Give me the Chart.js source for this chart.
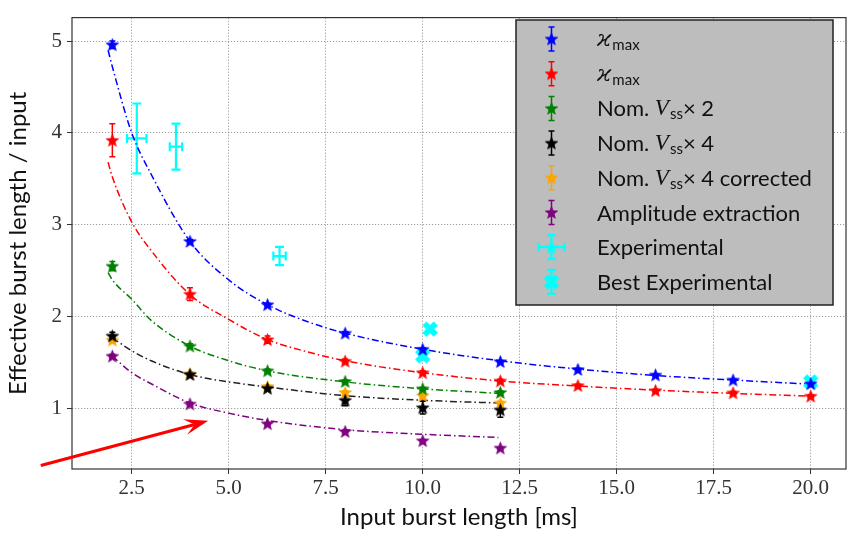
<!DOCTYPE html>
<html>
<head>
<meta charset="utf-8">
<script src="https://cdn.jsdelivr.net/npm/chart.js@4.4.1/dist/chart.umd.min.js"></script>
<style>
html, body { margin: 0; padding: 0; background: #fff; }
#wrap { width: 855px; height: 534px; }
</style>
</head>
<body>
<div id="wrap"><canvas id="burstChart" width="855" height="534"></canvas></div>
<script>
// simulated burst lengths (ms)
const burstX = [2, 4, 6, 8, 10, 12, 14, 16, 18, 20];
const burstXShort = [2, 4, 6, 8, 10, 12];

// effective burst length / input, with error bars
const kappaBlue = [4.96, 2.82, 2.13, 1.82, 1.645, 1.51, 1.425, 1.365, 1.31, 1.27];
const kappaBlueErr = [0.04, 0.02, 0.015, 0.015, 0.015, 0.012, 0.01, 0.01, 0.01, 0.01];
const kappaRed = [3.92, 2.245, 1.75, 1.515, 1.39, 1.30, 1.25, 1.195, 1.17, 1.135];
const kappaRedErr = [0.18, 0.07, 0.04, 0.025, 0.02, 0.02, 0.015, 0.015, 0.015, 0.015];
const nomX2 = [2.55, 1.68, 1.41, 1.295, 1.215, 1.175];
const nomX2Err = [0.05, 0.025, 0.02, 0.015, 0.015, 0.015];
const nomX4 = [1.79, 1.37, 1.22, 1.09, 1.01, 0.985];
const nomX4Err = [0.04, 0.025, 0.025, 0.06, 0.07, 0.08];
const nomX4Corr = [1.745, 1.38, 1.24, 1.175, 1.14, 1.06];
const nomX4CorrErr = [0.03, 0.02, 0.02, 0.02, 0.02, 0.02];
const amplitude = [1.57, 1.05, 0.835, 0.75, 0.65, 0.57];
const amplitudeErr = [0.02, 0.015, 0.01, 0.01, 0.01, 0.01];

// measured points
const expX = [2.63, 3.64, 6.31];
const expY = [3.94, 3.85, 2.66];
const expXErr = [0.25, 0.16, 0.16];
const expYErr = [0.38, 0.25, 0.10];
const bestX = [10.19, 10.0, 20.0];
const bestY = [1.865, 1.575, 1.29];
const bestYErr = [0.0, 0.04, 0.0];

// fitted curves
const fitXLong = [1.89, 2, 2.5, 3, 4, 5, 6, 7, 8, 10, 12, 14, 16, 18, 20];
const fitBlue = [4.90, 4.72, 4.00, 3.55, 2.82, 2.40, 2.13, 1.95, 1.82, 1.645, 1.52, 1.43, 1.36, 1.31, 1.265];
const fitRed = [3.68, 3.52, 3.03, 2.72, 2.24, 1.97, 1.75, 1.62, 1.52, 1.39, 1.30, 1.245, 1.20, 1.165, 1.135];
const fitXShort = [1.89, 2, 2.5, 3, 4, 5, 6, 8, 10, 11.95];
const fitGreen = [2.48, 2.40, 2.19, 1.96, 1.68, 1.52, 1.41, 1.29, 1.215, 1.165];
const fitXShort2 = [2, 2.5, 3, 4, 5, 6, 8, 10, 11.95];
const fitBlack = [1.77, 1.63, 1.52, 1.37, 1.29, 1.235, 1.14, 1.09, 1.06];
const fitPurple = [1.57, 1.39, 1.27, 1.06, 0.95, 0.87, 0.77, 0.72, 0.685];

// axis ticks
const xTicks = [2.5, 5.0, 7.5, 10.0, 12.5, 15.0, 17.5, 20.0];
const yTicks = [1, 2, 3, 4, 5];

// annotation arrow, in data units
const arrowFrom = [0.155, 0.38];
const arrowTo = [4.47, 0.866];

const COLORS = {
    blue: '#0000ff', red: '#ff0000', green: '#008000', black: '#000000',
    orange: '#ffa500', purple: '#800080', cyan: '#00ffff'
};

function starImage(color, r) {
    const c = document.createElement('canvas');
    const s = Math.ceil(r * 2 + 4);
    c.width = c.height = s;
    const g = c.getContext('2d');
    g.translate(s / 2, s / 2 + 0.5);
    g.beginPath();
    for (let i = 0; i < 10; i++) {
        const rr = i % 2 ? r * 0.42 : r;
        const a = -Math.PI / 2 + i * Math.PI / 5;
        g.lineTo(rr * Math.cos(a), rr * Math.sin(a));
    }
    g.closePath();
    g.fillStyle = color;
    g.fill();
    g.lineWidth = 0.8;
    g.strokeStyle = color;
    g.stroke();
    return c;
}

function xImage(color, r) {
    const c = document.createElement('canvas');
    const s = Math.ceil(r * 2 + 4);
    c.width = c.height = s;
    const g = c.getContext('2d');
    g.translate(s / 2, s / 2);
    g.rotate(Math.PI / 4);
    const w = r * 0.36;
    g.beginPath();
    g.moveTo(-w, -r); g.lineTo(w, -r); g.lineTo(w, -w); g.lineTo(r, -w);
    g.lineTo(r, w); g.lineTo(w, w); g.lineTo(w, r); g.lineTo(-w, r);
    g.lineTo(-w, w); g.lineTo(-r, w); g.lineTo(-r, -w); g.lineTo(-w, -w);
    g.closePath();
    g.fillStyle = color;
    g.fill();
    return c;
}

const stars = {};
Object.keys(COLORS).forEach(k => { stars[k] = starImage(COLORS[k], 6.5); });
const bestMarker = xImage(COLORS.cyan, 8);

function pts(xs, ys) {
    return xs.map((x, i) => ({ x: x, y: ys[i] }));
}

function fitSet(xs, ys, color) {
    return {
        data: pts(xs, ys), showLine: true, borderColor: color, borderWidth: 1.5,
        borderDash: [7, 3, 1.5, 3], pointRadius: 0, cubicInterpolationMode: 'monotone', order: 2
    };
}

function markerSet(xs, ys, color, img, yErr, xErr, errWidth) {
    return {
        data: pts(xs, ys), showLine: false, pointStyle: img, pointRadius: 6,
        borderColor: color, backgroundColor: color, order: 1,
        errColor: color, yErr: yErr, xErr: xErr, errWidth: errWidth || 1.5
    };
}

// error bars, drawn under the markers
const errorBars = {
    id: 'errorBars',
    beforeDatasetsDraw(chart) {
        const ctx = chart.ctx, xs = chart.scales.x, ys = chart.scales.y;
        ctx.save();
        chart.data.datasets.forEach(ds => {
            if (!ds.yErr && !ds.xErr) return;
            ctx.strokeStyle = ds.errColor;
            ctx.lineWidth = ds.errWidth;
            const cap = ds.errWidth > 2 ? 4.5 : 3;
            ds.data.forEach((p, i) => {
                const px = xs.getPixelForValue(p.x), py = ys.getPixelForValue(p.y);
                const ye = ds.yErr ? ds.yErr[i] : 0;
                const xe = ds.xErr ? ds.xErr[i] : 0;
                ctx.beginPath();
                if (ye > 0) {
                    const t = ys.getPixelForValue(p.y + ye), b = ys.getPixelForValue(p.y - ye);
                    ctx.moveTo(px, t); ctx.lineTo(px, b);
                    ctx.moveTo(px - cap, t); ctx.lineTo(px + cap, t);
                    ctx.moveTo(px - cap, b); ctx.lineTo(px + cap, b);
                }
                if (xe > 0) {
                    const l = xs.getPixelForValue(p.x - xe), r = xs.getPixelForValue(p.x + xe);
                    ctx.moveTo(l, py); ctx.lineTo(r, py);
                    ctx.moveTo(l, py - cap); ctx.lineTo(l, py + cap);
                    ctx.moveTo(r, py - cap); ctx.lineTo(r, py + cap);
                }
                ctx.stroke();
            });
        });
        ctx.restore();
    }
};

function drawParts(ctx, parts, x, y) {
    parts.forEach(p => {
        ctx.font = p.font;
        ctx.fillText(p.t, x, y + (p.dy || 0));
        x += ctx.measureText(p.t).width + (p.gap || 0);
    });
}

const SANS = '22px Lato';
const SUB = '15px Lato';
const kappaParts = [{ t: 'ϰ', font: 'italic 23px "DejaVu Serif"', gap: 1 }, { t: 'max', font: SUB, dy: 5 }];
const vss = n => [
    { t: 'Nom. ', font: SANS },
    { t: 'V', font: 'italic 23px "Liberation Serif"', gap: 1 },
    { t: 'ss', font: SUB, dy: 5 },
    { t: '× ' + n, font: SANS }
];
const legendRows = [
    { color: 'blue', parts: kappaParts },
    { color: 'red', parts: kappaParts },
    { color: 'green', parts: vss('2') },
    { color: 'black', parts: vss('4') },
    { color: 'orange', parts: vss('4 corrected') },
    { color: 'purple', parts: [{ t: 'Amplitude extraction', font: SANS }] },
    { color: 'cyan', parts: [{ t: 'Experimental', font: SANS }], cross: true },
    { color: 'cyan', parts: [{ t: 'Best Experimental', font: SANS }], best: true }
];

// frame, legend box and the red arrow
const decorations = {
    id: 'decorations',
    afterDraw(chart) {
        const ctx = chart.ctx, a = chart.chartArea;
        const xs = chart.scales.x, ys = chart.scales.y;
        ctx.save();
        ctx.strokeStyle = '#333';
        ctx.lineWidth = 1.2;
        ctx.strokeRect(a.left, a.top, a.right - a.left, a.bottom - a.top);

        // legend
        const lx = 516, ly = 20, lw = 317, lh = 285;
        ctx.fillStyle = '#bdbdbd';
        ctx.fillRect(lx, ly, lw, lh);
        ctx.strokeStyle = '#222';
        ctx.lineWidth = 1.5;
        ctx.strokeRect(lx, ly, lw, lh);
        ctx.textBaseline = 'middle';
        legendRows.forEach((row, i) => {
            const cy = 39 + i * 34.7, mx = 551.5;
            const col = COLORS[row.color];
            ctx.strokeStyle = col;
            ctx.lineWidth = row.color === 'cyan' ? 2.2 : 1.5;
            const cap = row.color === 'cyan' ? 4.5 : 3;
            ctx.beginPath();
            ctx.moveTo(mx, cy - 12); ctx.lineTo(mx, cy + 12);
            ctx.moveTo(mx - cap, cy - 12); ctx.lineTo(mx + cap, cy - 12);
            ctx.moveTo(mx - cap, cy + 12); ctx.lineTo(mx + cap, cy + 12);
            if (row.cross) {
                ctx.moveTo(mx - 13, cy); ctx.lineTo(mx + 13, cy);
                ctx.moveTo(mx - 13, cy - cap); ctx.lineTo(mx - 13, cy + cap);
                ctx.moveTo(mx + 13, cy - cap); ctx.lineTo(mx + 13, cy + cap);
            }
            ctx.stroke();
            const img = row.best ? bestMarker : stars[row.color];
            ctx.drawImage(img, mx - img.width / 2, cy - img.height / 2);
            ctx.fillStyle = '#111';
            drawParts(ctx, row.parts, 597, cy + 1);
        });

        // arrow
        const x0 = xs.getPixelForValue(arrowFrom[0]), y0 = ys.getPixelForValue(arrowFrom[1]);
        const x1 = xs.getPixelForValue(arrowTo[0]), y1 = ys.getPixelForValue(arrowTo[1]);
        const ang = Math.atan2(y1 - y0, x1 - x0);
        const ux = Math.cos(ang), uy = Math.sin(ang);
        ctx.strokeStyle = '#ff0000';
        ctx.fillStyle = '#ff0000';
        ctx.lineWidth = 3.2;
        ctx.beginPath();
        ctx.moveTo(x0, y0);
        ctx.lineTo(x1 - ux * 14, y1 - uy * 14);
        ctx.stroke();
        ctx.beginPath();
        ctx.moveTo(x1, y1);
        ctx.lineTo(x1 - ux * 24 - uy * 8, y1 - uy * 24 + ux * 8);
        ctx.lineTo(x1 - ux * 14, y1 - uy * 14);
        ctx.lineTo(x1 - ux * 24 + uy * 8, y1 - uy * 24 - ux * 8);
        ctx.closePath();
        ctx.fill();
        ctx.restore();
    }
};

const gridOpts = { color: 'rgba(110,110,110,0.75)', lineWidth: 0.9, tickLength: 5, tickColor: '#333', tickWidth: 1 };
const borderOpts = { display: false, dash: [1.2, 1.8] };
const tickFont = { family: 'Liberation Serif', size: 21 };
const titleFont = { family: 'Lato', size: 24 };

new Chart(document.getElementById('burstChart'), {
    type: 'scatter',
    data: {
        datasets: [
            fitSet(fitXLong, fitBlue, COLORS.blue),
            fitSet(fitXLong, fitRed, COLORS.red),
            fitSet(fitXShort, fitGreen, COLORS.green),
            fitSet(fitXShort2, fitBlack, '#222'),
            fitSet(fitXShort2, fitPurple, COLORS.purple),
            markerSet(burstX, kappaBlue, COLORS.blue, stars.blue, kappaBlueErr),
            markerSet(burstX, kappaRed, COLORS.red, stars.red, kappaRedErr),
            markerSet(burstXShort, nomX2, COLORS.green, stars.green, nomX2Err),
            markerSet(burstXShort, nomX4, COLORS.black, stars.black, nomX4Err),
            markerSet(burstXShort, nomX4Corr, COLORS.orange, stars.orange, nomX4CorrErr),
            markerSet(burstXShort, amplitude, COLORS.purple, stars.purple, amplitudeErr),
            markerSet(expX, expY, COLORS.cyan, document.createElement('canvas'), expYErr, expXErr, 2.2),
            markerSet(bestX, bestY, COLORS.cyan, bestMarker, bestYErr, null, 2.2)
        ]
    },
    options: {
        responsive: false,
        animation: false,
        layout: { padding: { top: 7, right: 9, left: 0, bottom: 0 } },
        plugins: { legend: { display: false }, tooltip: { enabled: false } },
        scales: {
            x: {
                type: 'linear', min: 0.96, max: 20.91,
                afterBuildTicks: s => { s.ticks = xTicks.map(v => ({ value: v })); },
                afterFit: s => { s.height = 65; },
                grid: gridOpts, border: borderOpts,
                ticks: { font: tickFont, color: '#333', padding: 2, maxRotation: 0, callback: v => v.toFixed(1) },
                title: { display: true, text: 'Input burst length [ms]', font: titleFont, color: '#111', padding: { top: 0, bottom: 2 } }
            },
            y: {
                type: 'linear', min: 0.342, max: 5.255,
                afterBuildTicks: s => { s.ticks = yTicks.map(v => ({ value: v })); },
                afterFit: s => { s.width = 72; },
                grid: gridOpts, border: borderOpts,
                ticks: { font: tickFont, color: '#333', padding: 5, callback: v => String(v) },
                title: { display: true, text: 'Effective burst length / input', font: titleFont, color: '#111', padding: { top: 4, bottom: 0 } }
            }
        }
    },
    plugins: [errorBars, decorations]
});
</script>
</body>
</html>
